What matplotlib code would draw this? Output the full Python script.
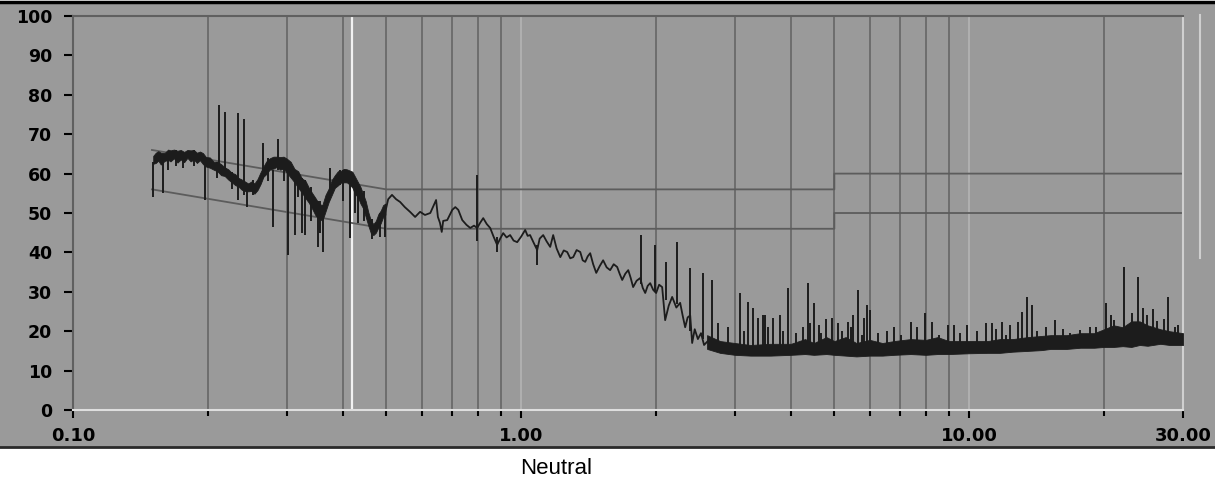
import matplotlib
matplotlib.use("Agg")
import matplotlib.pyplot as plt
from matplotlib.patches import Rectangle
from matplotlib.lines import Line2D
from matplotlib.ticker import FixedLocator, NullFormatter

# ---- data (frequency in MHz, level in dBuV) ----
# thick trace section 0.15 - 0.5 MHz: centre level and half thickness
band1_f = [0.151, 0.153, 0.155, 0.157, 0.160, 0.163, 0.165, 0.168, 0.171, 0.174,
           0.177, 0.180, 0.183, 0.186, 0.189, 0.192, 0.195, 0.198, 0.202, 0.206,
           0.210, 0.214, 0.218, 0.222, 0.226, 0.230, 0.234, 0.238, 0.242, 0.246,
           0.250, 0.254, 0.258, 0.262, 0.266, 0.270, 0.275, 0.280, 0.285, 0.290,
           0.295, 0.300, 0.306, 0.312, 0.318, 0.324, 0.330, 0.336, 0.342, 0.348,
           0.354, 0.360, 0.366, 0.372, 0.378, 0.384, 0.390, 0.396, 0.402, 0.408,
           0.414, 0.420, 0.426, 0.432, 0.438, 0.444, 0.450, 0.456, 0.462, 0.468,
           0.474, 0.480, 0.486, 0.492, 0.498]
band1_mid = [63.5, 64.0, 64.5, 63.8, 64.2, 64.8, 64.5, 65.0, 64.3, 64.8,
             64.2, 65.0, 64.5, 64.8, 64.0, 64.5, 63.8, 63.0, 62.8, 62.0,
             61.8, 61.0, 60.5, 59.8, 59.0, 58.5, 57.8, 57.2, 56.8, 56.5,
             56.8, 56.2, 57.2, 58.8, 60.5, 61.5, 62.5, 62.8, 63.0, 62.6,
             62.8, 62.0, 61.0, 59.5, 58.5, 57.0, 56.0, 54.5, 53.0, 51.5,
             50.5, 50.0, 52.5, 54.5, 56.5, 58.0, 58.8, 59.2, 59.5, 59.5,
             59.0, 58.5, 57.0, 56.0, 54.5, 53.0, 51.0, 48.5, 46.5, 45.8,
             46.5, 48.0, 49.0, 50.5, 51.0]
band1_half = [1.0, 1.3, 1.2, 1.5, 1.0, 1.3, 1.4, 1.1, 1.5, 1.2,
              1.3, 1.0, 1.4, 1.2, 1.3, 1.1, 1.4, 1.2, 1.3, 1.0,
              1.2, 1.4, 1.1, 1.3, 1.2, 1.4, 1.1, 1.3, 1.2, 1.0,
              1.2, 1.3, 1.4, 1.5, 1.3, 1.6, 1.4, 1.5, 1.3, 1.6,
              1.5, 1.8, 2.0, 1.7, 2.1, 1.8, 2.2, 1.9, 2.0, 2.2,
              1.8, 2.0, 2.1, 1.7, 1.9, 1.6, 1.8, 1.5, 1.7, 1.6,
              1.8, 2.0, 2.2, 1.9, 2.1, 1.8, 2.0, 1.7, 1.6, 1.4,
              1.5, 1.7, 1.6, 1.5, 1.4]

# thin trace section 0.5 - 2.6 MHz
trace_f = [0.497, 0.505, 0.515, 0.526, 0.537, 0.550, 0.565, 0.580, 0.595, 0.610,
           0.627, 0.646, 0.652, 0.659, 0.665, 0.670, 0.684, 0.702, 0.713, 0.724,
           0.739, 0.755, 0.770, 0.785, 0.798, 0.810, 0.823, 0.838, 0.853, 0.868,
           0.884, 0.898, 0.912, 0.928, 0.945, 0.962, 0.980, 1.000, 1.021, 1.034,
           1.047, 1.066, 1.086, 1.100, 1.120, 1.140, 1.161, 1.179, 1.200, 1.223,
           1.245, 1.267, 1.287, 1.307, 1.330, 1.355, 1.372, 1.390, 1.408, 1.426,
           1.448, 1.471, 1.497, 1.524, 1.552, 1.580, 1.609, 1.638, 1.660, 1.681,
           1.708, 1.734, 1.756, 1.778, 1.810, 1.844, 1.868, 1.892, 1.916, 1.941,
           1.971, 2.001, 2.032, 2.064, 2.080, 2.096, 2.135, 2.173, 2.220, 2.264,
           2.293, 2.323, 2.353, 2.384, 2.408, 2.440, 2.480, 2.520, 2.560, 2.610]
trace_v = [50.0, 53.5, 54.6, 53.5, 52.8, 51.5, 50.3, 49.0, 50.3, 49.5,
           50.0, 53.3, 49.0, 47.5, 45.2, 48.0, 48.2, 50.8, 51.5, 50.8,
           48.2, 47.0, 46.2, 46.8, 46.2, 47.5, 48.7, 47.2, 46.2, 44.0,
           41.9, 43.5, 44.9, 43.8, 44.4, 43.0, 42.6, 44.0, 45.7, 44.2,
           44.4, 42.5, 40.6, 43.5, 44.4, 42.8, 41.4, 44.4, 41.0, 38.8,
           40.5, 40.1, 38.5, 38.8, 40.6, 40.1, 38.0, 37.6, 39.0, 39.8,
           37.0, 34.8, 36.5, 38.0, 36.2, 35.5, 37.0, 36.3, 34.5, 33.0,
           34.6, 35.5, 33.5, 31.2, 32.8, 33.5, 31.0, 29.7, 31.5, 32.2,
           30.5, 29.7, 31.8, 31.2, 27.0, 22.8, 26.5, 28.7, 26.0, 27.2,
           24.0, 21.0, 23.5, 24.0, 17.0, 20.5, 18.0, 19.5, 16.5, 17.5]

# dense noise band 2.6 - 30 MHz (envelope)
band2_f = [2.60, 2.78, 3.00, 3.25, 3.60, 4.00, 4.30, 4.50, 4.80, 5.00,
           5.30, 5.60, 6.00, 6.40, 6.80, 7.40, 8.00, 8.50, 9.00, 10.0,
           11.0, 11.7, 12.5, 13.5, 14.5, 15.2, 16.5, 17.7, 19.0, 20.0,
           21.0, 22.0, 23.0, 24.0, 25.0, 26.7, 28.0, 30.0]
band2_lo = [15.5, 14.5, 14.0, 13.8, 13.8, 14.0, 14.2, 14.0, 14.2, 14.0,
            13.8, 13.6, 13.8, 13.8, 14.0, 14.2, 14.0, 14.2, 14.2, 14.4,
            14.5, 14.5, 14.8, 15.0, 15.2, 15.5, 15.5, 15.8, 15.8, 16.0,
            16.0, 16.2, 16.0, 16.5, 16.3, 16.8, 16.5, 16.5]
band2_hi = [19.0, 17.5, 17.0, 16.5, 16.8, 16.8, 18.0, 17.0, 18.5, 17.5,
            18.5, 17.0, 17.8, 17.0, 17.5, 18.0, 17.8, 18.5, 17.5, 17.5,
            17.5, 18.0, 18.0, 18.5, 18.8, 19.0, 19.0, 19.5, 19.5, 20.5,
            21.5, 21.0, 22.5, 22.5, 21.5, 20.5, 20.0, 19.5]

# narrow spikes: frequency, bottom, top
spike_f = [0.151, 0.159, 0.197, 0.212, 0.218, 0.234, 0.241, 0.245, 0.266, 0.280,
           0.287, 0.302, 0.313, 0.325, 0.330, 0.352, 0.361, 0.375, 0.395, 0.415,
           0.433, 0.485, 0.497, 0.798, 0.884, 1.086,
           0.163, 0.170, 0.176, 0.186, 0.210, 0.226, 0.252, 0.272, 0.295, 0.318,
           0.340, 0.356, 0.400, 0.425, 0.445, 0.465,
           1.853, 1.992, 2.107, 2.230, 2.384, 2.549, 2.669, 3.082, 3.212, 3.296,
           3.381, 3.470, 3.505, 3.652, 3.786, 3.945, 4.372, 4.508, 4.674, 4.945,
           5.101, 5.370, 5.510, 5.653, 5.831, 5.921, 6.012, 6.804, 7.422, 7.977,
           8.269, 8.980, 9.258, 9.897, 10.91, 11.25, 11.85, 12.34, 12.86, 13.13,
           13.47, 13.82, 15.56, 16.80, 17.69, 18.63, 20.22, 21.07, 22.18, 23.84,
           24.46, 25.75, 27.82, 28.84,
           2.75, 2.90, 3.15, 3.55, 3.85, 4.10, 4.25, 4.42, 4.62, 4.80,
           5.20, 5.45, 5.75, 6.25, 6.55, 7.05, 7.65, 8.55, 9.55, 10.4,
           11.5, 12.1, 14.2, 14.8, 16.2, 19.2, 20.7, 23.1, 24.9, 26.2,
           27.2, 29.3]
spike_lo = [54.0, 55.0, 53.3, 61.0, 60.0, 53.3, 54.6, 51.5, 59.0, 46.4,
            61.0, 39.3, 44.4, 44.9, 44.4, 41.4, 40.1, 54.0, 57.0, 43.7,
            47.5, 44.0, 44.0, 43.0, 40.0, 36.8,
            61.0, 62.0, 61.5, 62.0, 59.0, 56.0, 54.5, 58.0, 58.0, 54.0,
            48.0, 45.0, 53.0, 50.0, 48.0, 43.5,
            32.0, 30.0, 28.0, 27.0, 20.0, 18.0, 17.0, 16.0, 16.0, 16.0,
            16.0, 16.0, 16.0, 16.0, 16.0, 16.0, 16.0, 16.0, 16.0, 16.0,
            16.0, 16.0, 16.0, 16.0, 16.0, 16.0, 16.0, 16.0, 16.0, 16.0,
            16.0, 16.0, 16.0, 16.0, 16.0, 16.0, 16.0, 16.0, 16.0, 16.0,
            16.0, 16.0, 17.0, 17.0, 17.0, 17.0, 18.0, 18.0, 18.0, 18.0,
            18.0, 18.0, 18.0, 18.0,
            16.0, 16.0, 16.0, 16.0, 16.0, 16.0, 16.0, 16.0, 16.0, 16.0,
            16.0, 16.0, 16.0, 16.0, 16.0, 16.0, 16.0, 16.0, 16.0, 16.0,
            16.0, 16.0, 17.0, 17.0, 17.0, 17.0, 18.0, 18.0, 18.0, 18.0,
            18.0, 18.0]
spike_hi = [63.0, 63.5, 63.0, 77.4, 75.6, 75.4, 73.9, 57.0, 67.8, 61.0,
            68.8, 62.0, 61.0, 59.0, 58.5, 53.0, 51.0, 61.4, 61.0, 58.0,
            56.0, 50.0, 50.0, 59.6, 44.0, 42.0,
            65.5, 66.0, 65.5, 66.0, 63.0, 60.5, 58.5, 64.0, 64.0, 60.0,
            56.5, 53.0, 61.0, 59.0, 55.5, 48.5,
            44.4, 41.9, 37.6, 42.6, 36.0, 34.8, 33.0, 29.7, 27.4, 26.0,
            23.4, 24.0, 24.0, 23.4, 24.0, 31.0, 32.2, 27.2, 19.5, 23.4,
            22.2, 22.3, 24.0, 30.5, 23.4, 26.6, 25.4, 21.0, 22.3, 24.6,
            22.3, 21.6, 21.6, 21.6, 22.0, 22.0, 22.3, 21.6, 22.3, 24.9,
            28.7, 26.6, 22.8, 19.5, 20.3, 21.0, 27.2, 22.8, 36.3, 33.8,
            26.0, 25.6, 28.7, 21.0,
            22.0, 21.0, 20.0, 21.0, 20.0, 19.5, 21.0, 22.0, 21.5, 23.0,
            20.0, 21.0, 19.0, 19.5, 20.0, 19.0, 21.0, 19.0, 19.5, 20.0,
            20.5, 19.0, 20.0, 21.0, 20.5, 21.0, 24.0, 24.5, 24.0, 22.5,
            23.0, 21.5]

# limit lines
limit_f = [0.15, 0.5, 5.0, 5.0, 30.0]
qp_limit = [66, 56, 56, 60, 60]
av_limit = [56, 46, 46, 50, 50]

grid_freqs = [0.2, 0.3, 0.4, 0.5, 0.6, 0.7, 0.8, 0.9, 2, 3, 4, 5, 6, 7, 8, 9, 20]
major_freqs = [0.1, 1.0, 10.0, 30.0]
major_labels = ['0.10', '1.00', '10.00', '30.00']
marker_f = 0.42

bg = '#9a9a9a'
trace_col = '#1c1c1c'

fig = plt.figure(figsize=(12.15, 4.84), dpi=100)
fig.patch.set_facecolor('white')
# gray panel with frame lines
fig.add_artist(Rectangle((0, 0.0764), 1, 0.9196, transform=fig.transFigure,
                         facecolor=bg, edgecolor='none', zorder=-10))
fig.add_artist(Line2D([0, 1], [0.9965, 0.9965], transform=fig.transFigure,
                      color='black', lw=2.5))
fig.add_artist(Line2D([0, 1], [0.0756, 0.0756], transform=fig.transFigure,
                      color='#2a2a2a', lw=2))
fig.add_artist(Line2D([0.9877, 0.9877], [0.969, 0.467], transform=fig.transFigure,
                      color='#cfcfcf', lw=1.5))

ax = fig.add_axes([0.0601, 0.1529, 0.9136, 0.8140])
ax.set_facecolor(bg)
ax.set_xscale('log')
ax.set_xlim(0.1, 30)
ax.set_ylim(0, 100)

# grid lines
ax.vlines(grid_freqs, 0, 100, colors='#6a6a6a', lw=1.3, zorder=1)
ax.vlines([1.0, 10.0], 0, 100, colors='#b2b2b2', lw=1.3, zorder=1)
ax.vlines([marker_f], 0, 100, colors='#f2f2f2', lw=1.6, zorder=1)

# limit lines
ax.plot(limit_f, qp_limit, color='#5c5c5c', lw=1.3, zorder=2)
ax.plot(limit_f, av_limit, color='#5c5c5c', lw=1.3, zorder=2)

# measured trace
band1_lo = [m - h for m, h in zip(band1_mid, band1_half)]
band1_hi = [m + h for m, h in zip(band1_mid, band1_half)]
ax.fill_between(band1_f, band1_lo, band1_hi, color=trace_col, lw=0.6, zorder=3)
ax.plot(trace_f, trace_v, color=trace_col, lw=1.3, zorder=3)
ax.fill_between(band2_f, band2_lo, band2_hi, color=trace_col, lw=0.6, zorder=3)
ax.vlines(spike_f, spike_lo, spike_hi, colors=trace_col, lw=1.4, zorder=3)

# spines
for side in ['left', 'top']:
    ax.spines[side].set_color('#606060')
    ax.spines[side].set_linewidth(1.5)
ax.spines['bottom'].set_color('#dedede')
ax.spines['bottom'].set_linewidth(1.5)
ax.spines['right'].set_color('#d0d0d0')
ax.spines['right'].set_linewidth(1.5)

# ticks
ax.xaxis.set_major_locator(FixedLocator(major_freqs))
ax.set_xticklabels(major_labels, fontweight='bold', fontsize=13)
ax.xaxis.set_minor_locator(FixedLocator(grid_freqs))
ax.xaxis.set_minor_formatter(NullFormatter())
ax.tick_params(axis='x', which='major', length=6, width=1.5, color='black', pad=6)
ax.tick_params(axis='x', which='minor', length=4, width=1.5, color='black')
ax.set_yticks(range(0, 101, 10))
ax.set_yticklabels([str(v) for v in range(0, 101, 10)], fontweight='bold', fontsize=12.5)
ax.tick_params(axis='y', length=6.5, width=1.5, color='black', pad=8.5)

fig.text(0.4576, 0.033, 'Neutral', ha='center', va='center', fontsize=16,
         family=['Liberation Sans', 'DejaVu Sans'])

fig.savefig('out.png', dpi=100)
